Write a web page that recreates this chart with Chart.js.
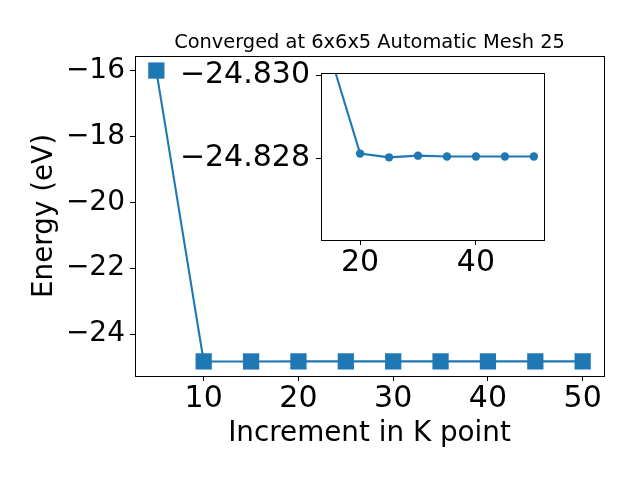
<!DOCTYPE html>
<html><head><meta charset="utf-8">
<script src="https://cdn.jsdelivr.net/npm/chart.js@4.4.0/dist/chart.umd.min.js"></script>
<style>
html,body{margin:0;padding:0;background:#fff;}
#wrap{position:relative;width:640px;height:480px;overflow:hidden;background:#fff;}
#main{position:absolute;left:0;top:0;}
#inset{position:absolute;left:160px;top:40px;}
</style></head><body>
<div id="wrap"><canvas id="main" width="640" height="480"></canvas><canvas id="inset" width="420" height="270"></canvas></div>
<script>
// ---- data ----
const kPoints = [5, 10, 15, 20, 25, 30, 35, 40, 45, 50];
const energies = [-16.00, -24.829, -24.8304, -24.82812, -24.82803, -24.82807, -24.82805, -24.82805, -24.82805, -24.82805];
const insetStart = 2; // inset shows k-points from 15 on
const mainXTicks = [10, 20, 30, 40, 50];
const mainYTicks = [-24, -22, -20, -18, -16];
const insetXTicks = [20, 40];
const insetYTicks = [-24.830, -24.828];
const insetYLimits = [-24.83005, -24.82605];
const titleText = 'Converged at 6x6x5 Automatic Mesh 25';
const xLabel = 'Increment in K point';
const yLabel = 'Energy (eV)';

const FAM = '"DejaVu Sans", sans-serif';
const BLUE = '#1f77b4';
const minus = s => s.replace('-', '\u2212');

function padRange(arr) {
  const lo = Math.min(...arr), hi = Math.max(...arr), m = (hi - lo) * 0.05;
  return [lo - m, hi + m];
}
const mainX = padRange(kPoints), mainY = padRange(energies);
const insetK = kPoints.slice(insetStart), insetE = energies.slice(insetStart);
const insetX = padRange(insetK);

const frame = {
  id: 'frame',
  afterDatasetsDraw(chart) {
    const {ctx, chartArea: a} = chart;
    ctx.save();
    ctx.strokeStyle = '#000';
    ctx.lineWidth = 1;
    ctx.strokeRect(Math.floor(a.left) + 0.5, Math.floor(a.top) + 0.5,
      Math.round(a.right - a.left), Math.round(a.bottom - a.top));
    ctx.restore();
  }
};
const whiteBg = {
  id: 'whiteBg',
  beforeDraw(chart) {
    const {ctx, chartArea: a} = chart;
    ctx.save();
    ctx.fillStyle = '#fff';
    ctx.fillRect(a.left, a.top, a.right - a.left, a.bottom - a.top);
    ctx.restore();
  }
};
const titlePlugin = {
  id: 'ttl',
  afterDraw(chart) {
    const {ctx, chartArea: a} = chart;
    ctx.save();
    ctx.font = '19.4px ' + FAM;
    ctx.fillStyle = '#000';
    ctx.textAlign = 'center';
    ctx.textBaseline = 'alphabetic';
    ctx.fillText(titleText, (a.left + a.right) / 2, 48.3);
    ctx.restore();
  }
};

function tickGrid() {
  return {display: true, drawOnChartArea: false, drawTicks: true, tickLength: 5, color: '#000', lineWidth: 1};
}

new Chart(document.getElementById('main'), {
  type: 'line',
  data: {
    datasets: [{
      data: kPoints.map((k, i) => ({x: k, y: energies[i]})),
      borderColor: BLUE, backgroundColor: BLUE, borderWidth: 2.1,
      pointStyle: 'rect', pointRadius: 11.5, pointBorderWidth: 0,
      pointBackgroundColor: BLUE, tension: 0
    }]
  },
  options: {
    responsive: false, animation: false,
    layout: {padding: {top: 56, right: 36, bottom: 0, left: 0}},
    plugins: {legend: {display: false}, tooltip: {enabled: false}},
    scales: {
      x: {
        type: 'linear', min: mainX[0], max: mainX[1],
        afterBuildTicks: s => { s.ticks = mainXTicks.map(v => ({value: v})); },
        afterFit: s => { s.height = 104; },
        grid: tickGrid(), border: {display: false},
        ticks: {font: {family: FAM, size: 30}, color: '#000', padding: 0, maxRotation: 0, autoSkip: false,
          callback: v => minus(String(v))},
        title: {display: true, text: xLabel, color: '#000', font: {family: FAM, size: 27.8}, padding: {top: 0, bottom: 30}}
      },
      y: {
        type: 'linear', min: mainY[0], max: mainY[1],
        afterBuildTicks: s => { s.ticks = mainYTicks.map(v => ({value: v})); },
        afterFit: s => { s.width = 135; },
        grid: tickGrid(), border: {display: false},
        ticks: {font: {family: FAM, size: 28}, color: '#000', padding: 5, autoSkip: false,
          callback: v => minus(v.toFixed(0))},
        title: {display: true, text: yLabel, color: '#000', font: {family: FAM, size: 27.8}, padding: {top: 28, bottom: 0}}
      }
    }
  },
  plugins: [frame, titlePlugin]
});

new Chart(document.getElementById('inset'), {
  type: 'line',
  data: {
    datasets: [{
      data: insetK.map((k, i) => ({x: k, y: insetE[i]})),
      borderColor: BLUE, backgroundColor: BLUE, borderWidth: 2.1,
      pointStyle: 'circle', pointRadius: 4.2, pointBorderWidth: 0,
      pointBackgroundColor: BLUE, tension: 0, clip: 0
    }]
  },
  options: {
    responsive: false, animation: false,
    layout: {padding: {top: 33, right: 36, bottom: 0, left: 0}},
    plugins: {legend: {display: false}, tooltip: {enabled: false}},
    scales: {
      x: {
        type: 'linear', min: insetX[0], max: insetX[1],
        afterBuildTicks: s => { s.ticks = insetXTicks.map(v => ({value: v})); },
        afterFit: s => { s.height = 70; },
        grid: tickGrid(), border: {display: false},
        ticks: {font: {family: FAM, size: 30}, color: '#000', padding: 0, maxRotation: 0, autoSkip: false,
          callback: v => minus(String(v))}
      },
      y: {
        type: 'linear', reverse: true, min: insetYLimits[0], max: insetYLimits[1],
        afterBuildTicks: s => { s.ticks = insetYTicks.map(v => ({value: v})); },
        afterFit: s => { s.width = 161; },
        grid: tickGrid(), border: {display: false},
        ticks: {font: {family: FAM, size: 30}, color: '#000', padding: 6, autoSkip: false,
          callback: v => minus(v.toFixed(3))}
      }
    }
  },
  plugins: [whiteBg, frame]
});
</script>
</body></html>
